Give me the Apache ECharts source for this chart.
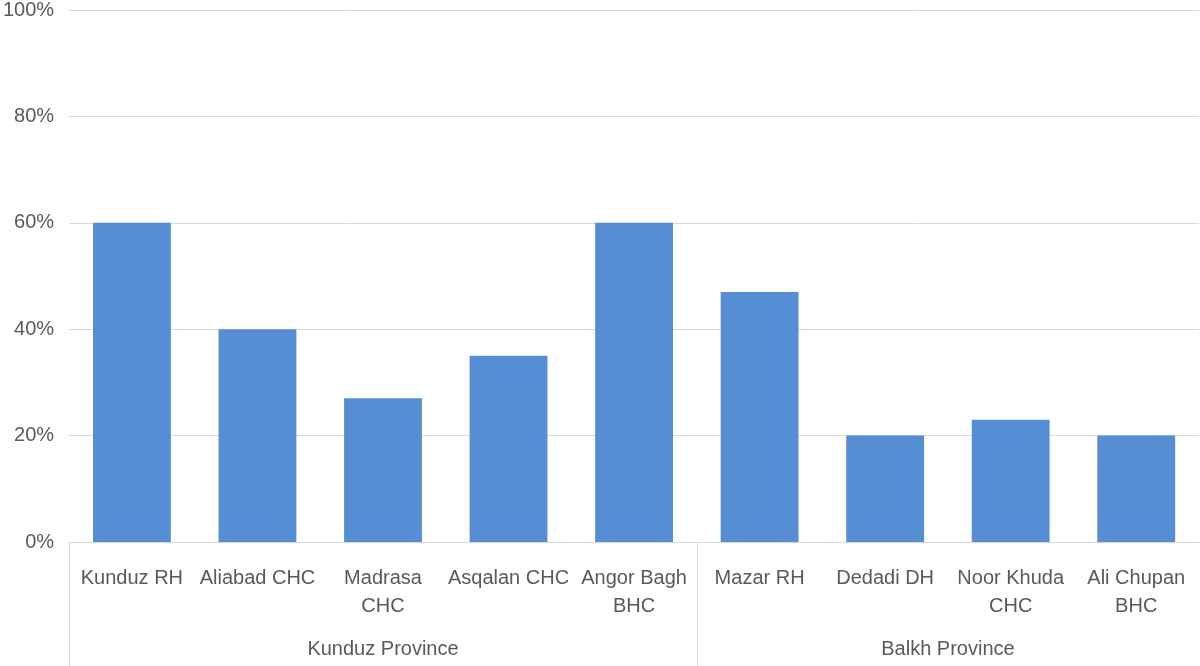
<!DOCTYPE html>
<html>
<head>
<meta charset="utf-8">
<script src="https://cdn.jsdelivr.net/npm/echarts@6/dist/echarts.min.js"></script>
<style>
html,body{margin:0;padding:0;background:#fff;}
#c{width:1200px;height:666px;}
</style>
</head>
<body>
<div id="c"></div>
<script>
const categories = ["Kunduz RH", "Aliabad CHC", "Madrasa\nCHC", "Asqalan CHC", "Angor Bagh\nBHC", "Mazar RH", "Dedadi DH", "Noor Khuda\nCHC", "Ali Chupan\nBHC"];
const values = [60, 40, 27, 35, 60, 47, 20, 23, 20];
const groups = ["Kunduz Province", "Balkh Province"];
const groupCenters = [2.5, 7];
const groupBounds = [0, 5];
const yTicks = [0, 20, 40, 60, 80, 100];

const chart = echarts.init(document.getElementById('c'));
const font = '"Liberation Sans", Arial, sans-serif';
chart.setOption({
  animation: false,
  grid: {left: 66, right: 1, top: 9, bottom: 124, containLabel: false},
  xAxis: [
    {
      type: 'category',
      data: categories,
      axisLine: {show: true, lineStyle: {color: '#d9d9d9', width: 1}},
      axisTick: {show: false},
      axisLabel: {color: '#595959', fontSize: 20, fontFamily: font, margin: 22, lineHeight: 28, interval: 0}
    },
    {
      type: 'value',
      position: 'bottom',
      min: 0, max: 9,
      axisLine: {show: false},
      splitLine: {show: false},
      axisTick: {show: true, customValues: groupBounds, length: 124, inside: false, lineStyle: {color: '#d9d9d9', width: 1}},
      axisLabel: {
        customValues: groupCenters,
        color: '#595959', fontSize: 20, fontFamily: font, margin: 97,
        formatter: function (v) { const i = groupCenters.indexOf(v); return i >= 0 ? groups[i] : ''; }
      }
    }
  ],
  yAxis: {
    type: 'value',
    min: yTicks[0], max: yTicks[yTicks.length - 1], interval: 20,
    axisLine: {show: false},
    axisTick: {show: false},
    splitLine: {lineStyle: {color: '#d9d9d9', width: 1}},
    axisLabel: {color: '#595959', fontSize: 20, fontFamily: font, margin: 15, formatter: '{value}%'}
  },
  series: [{
    type: 'bar',
    data: values,
    xAxisIndex: 0,
    barCategoryGap: '38%',
    itemStyle: {color: '#558ed5'}
  }]
});
</script>
</body>
</html>
